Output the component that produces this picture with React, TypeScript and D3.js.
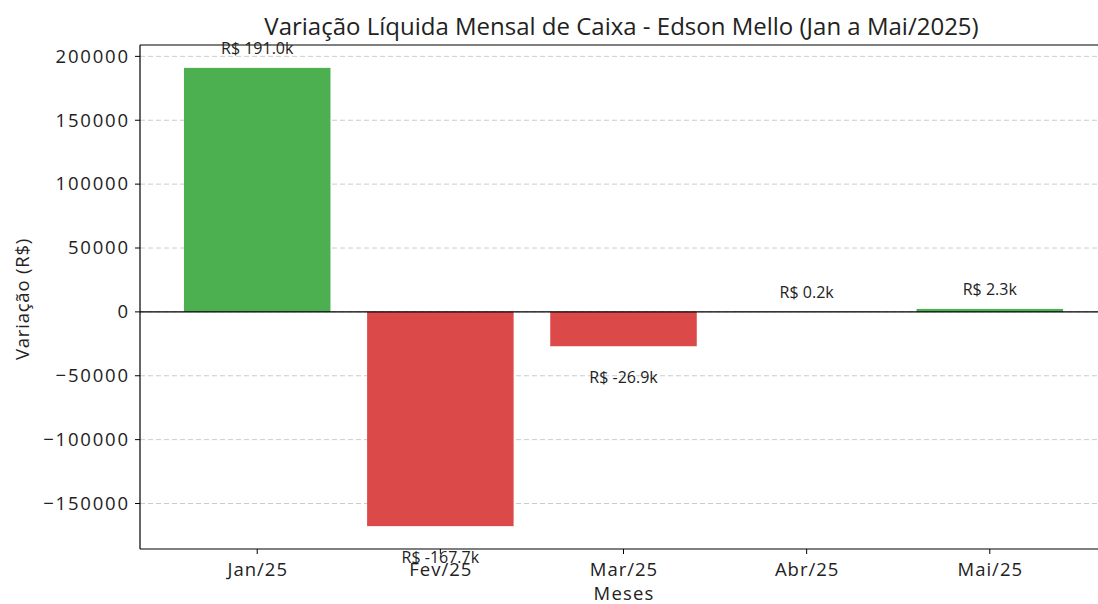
import React from "react";
import * as d3 from "d3";

const months: string[] = ["Jan/25", "Fev/25", "Mar/25", "Abr/25", "Mai/25"];
const values: number[] = [191000, -167700, -26900, 200, 2300];
const yTicks: number[] = [-150000, -100000, -50000, 0, 50000, 100000, 150000, 200000];
const title = "Variação Líquida Mensal de Caixa - Edson Mello (Jan a Mai/2025)";
const xLabel = "Meses";
const yLabel = "Variação (R$)";

const W = 1098;
const H = 604;
const FONT = "'Open Sans', 'DejaVu Sans', sans-serif";

export default function App() {
  const left = 140, right = 1107, top = 45, bottom = 549;
  const x = d3.scaleLinear().domain([-0.64, months.length - 1 + 0.64]).range([left, right]);
  const y = d3.scaleLinear().domain([-185600, 208900]).range([bottom, top]);
  const bw = 0.8;
  const fmt = (v: number) => `R$ ${(v / 1000).toFixed(1)}k`;

  return (
    <div style={{ position: "fixed", left: 0, top: 0, width: W, height: H, background: "#fff" }}>
      <svg width={W} height={H} style={{ display: "block" }} fontFamily={FONT}>
        <rect x={0} y={0} width={W} height={H} fill="#fff" />
        {/* grid */}
        {yTicks.map((t) => (
          <line key={"g" + t} x1={left} x2={right} y1={y(t)} y2={y(t)} stroke="#cccccc" strokeWidth={1} strokeDasharray="5,3" />
        ))}
        {/* bars */}
        {values.map((v, i) => (
          <rect
            key={"b" + i}
            x={x(i - bw / 2)}
            width={x(i + bw / 2) - x(i - bw / 2)}
            y={Math.min(y(v), y(0))}
            height={Math.abs(y(v) - y(0))}
            fill={v >= 0 ? "#4caf50" : "#dc4949"}
          />
        ))}
        {/* zero line */}
        <line x1={left} x2={right} y1={y(0)} y2={y(0)} stroke="#000" strokeWidth={1.2} />
        {/* spines */}
        <line x1={left} x2={left} y1={top} y2={bottom} stroke="#000" strokeWidth={1.2} />
        <line x1={left} x2={right} y1={top} y2={top} stroke="#000" strokeWidth={1.2} />
        <line x1={left} x2={right} y1={bottom} y2={bottom} stroke="#000" strokeWidth={1.2} />
        {/* y ticks */}
        {yTicks.map((t) => (
          <g key={"yt" + t}>
            <line x1={left - 5} x2={left} y1={y(t)} y2={y(t)} stroke="#000" strokeWidth={1} />
            <text x={left - 12 + 1.8} y={y(t) + 6.3} textAnchor="end" fontSize={18.5} letterSpacing={1.8} fill="#222">
              {t < 0 ? "\u2212" + Math.abs(t) : String(t)}
            </text>
          </g>
        ))}
        {/* x ticks */}
        {months.map((m, i) => (
          <g key={"xt" + i}>
            <line x1={x(i)} x2={x(i)} y1={bottom} y2={bottom + 5} stroke="#000" strokeWidth={1} />
            <text x={x(i) + 0.5} y={575.5} textAnchor="middle" fontSize={18.5} letterSpacing={1} fill="#222">{m}</text>
          </g>
        ))}
        {/* value labels */}
        {values.map((v, i) => (
          <text
            key={"l" + i}
            x={x(i)}
            y={v >= 0 ? y(v) - 13.5 : y(v) + 37}
            textAnchor="middle"
            fontSize={16}
            fill="#222"
          >
            {fmt(v)}
          </text>
        ))}
        {/* axis labels */}
        <text x={(left + right) / 2 + 0.6} y={600} textAnchor="middle" fontSize={18.5} letterSpacing={1.2} fill="#222">{xLabel}</text>
        <text transform={`translate(28.5,299) rotate(-90)`} textAnchor="middle" fontSize={18.5} letterSpacing={0.8} fill="#222">{yLabel}</text>
        <text x={(left + right) / 2 - 2} y={35} textAnchor="middle" fontSize={24} fill="#222">{title}</text>
      </svg>
    </div>
  );
}
